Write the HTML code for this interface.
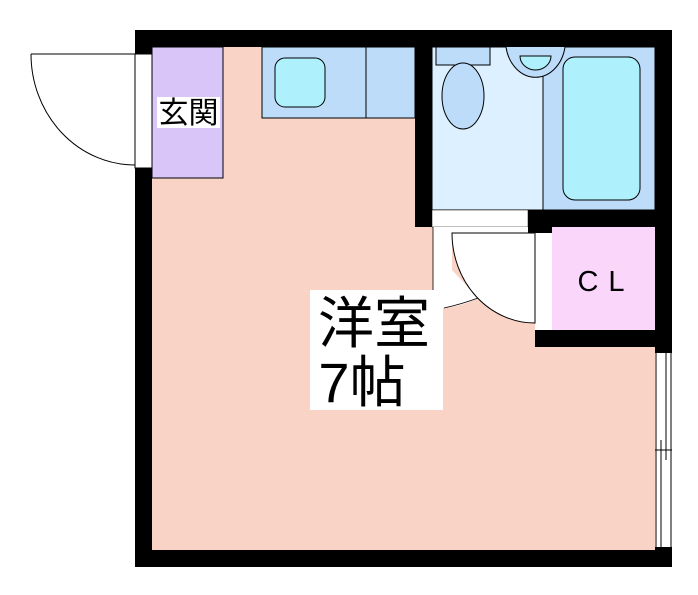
<!DOCTYPE html><html><head><style>body{margin:0;background:#fff}svg{display:block}</style></head><body>
<svg width="698" height="595" xmlns="http://www.w3.org/2000/svg" font-family="'Liberation Sans', 'Noto Sans CJK JP', sans-serif">
<rect x="135" y="30" width="537" height="537" fill="#000"/>
<rect x="152" y="47" width="503" height="503" fill="#f9d3c6"/>
<rect x="152" y="47" width="71" height="131" fill="#d9c5f8" stroke="#000" stroke-width="1"/>
<rect x="157" y="97" width="63" height="31" fill="#fff"/>
<text x="188.5" y="123" font-size="30" text-anchor="middle">玄関</text>
<rect x="135" y="54" width="17" height="114" fill="#fff" stroke="#000" stroke-width="1"/>
<path d="M31 54 H135 M31 54 A104 111 0 0 0 135 165" fill="none" stroke="#000" stroke-width="1"/>
<rect x="262" y="47" width="153" height="71" fill="#bddcfa" stroke="#000"/>
<line x1="366" y1="47" x2="366" y2="118" stroke="#000"/>
<rect x="275" y="58" width="50" height="49" rx="10" fill="#aef0fc" stroke="#000"/>
<rect x="415" y="47" width="17" height="180" fill="#000"/>
<rect x="432" y="47" width="111" height="163" fill="#ddf0ff" stroke="#000"/>
<rect x="543" y="47" width="112" height="163" fill="#bddcfa" stroke="#000"/>
<rect x="436" y="47" width="54" height="18" fill="#bddcfa" stroke="#000"/>
<ellipse cx="463" cy="96" rx="21" ry="33" fill="#bddcfa" stroke="#000"/>
<path d="M506 47 A30 37 0 0 0 565 47" fill="#bddcfa" stroke="#000"/>
<path d="M520 56 H551 A15.5 14 0 0 1 520 56 Z" fill="#aef0fc" stroke="#000"/>
<rect x="563" y="57" width="77" height="143" rx="12" fill="#aef0fc" stroke="#000"/>
<rect x="432" y="210" width="96" height="17" fill="#fff" stroke="#000" stroke-width="0.5"/>
<rect x="528" y="210" width="144" height="17" fill="#000"/>
<rect x="528" y="210" width="24" height="23" fill="#000"/>
<rect x="552" y="227" width="103" height="103" fill="#fbd6fb"/>
<rect x="535" y="330" width="137" height="17" fill="#000"/>
<rect x="655" y="47" width="17" height="300" fill="#000"/>
<rect x="535" y="233" width="17" height="97" fill="#fff"/>
<text x="606" y="291" font-size="29" text-anchor="middle" letter-spacing="10">CL</text>
<path d="M433 227 H528 V233 H452 V300 L444 308 H433 Z" fill="#fff"/>
<path d="M433 300 L444 308 A90 90 0 0 0 478 298 L452 270 Z" fill="#fff"/>
<path d="M452 233 H535 V323 A83 90 0 0 1 452 233 Z" fill="#fff" stroke="#000"/>
<path d="M433 227 V305 M444 308 Q462 304 478 298" fill="none" stroke="#000" stroke-width="0.8"/>
<rect x="655" y="353" width="17" height="194" fill="#fff"/>
<path d="M656 353 V547 M671 353 V547 M666 353 V460 M661 440 V547 M655 450 H672" stroke="#000" stroke-width="1"/>
<rect x="310" y="290" width="133" height="120" fill="#fff"/>
<text x="374" y="343" font-size="56" text-anchor="middle">洋室</text>
<text x="362" y="402" font-size="56" text-anchor="middle">7帖</text>
</svg>
</body></html>
